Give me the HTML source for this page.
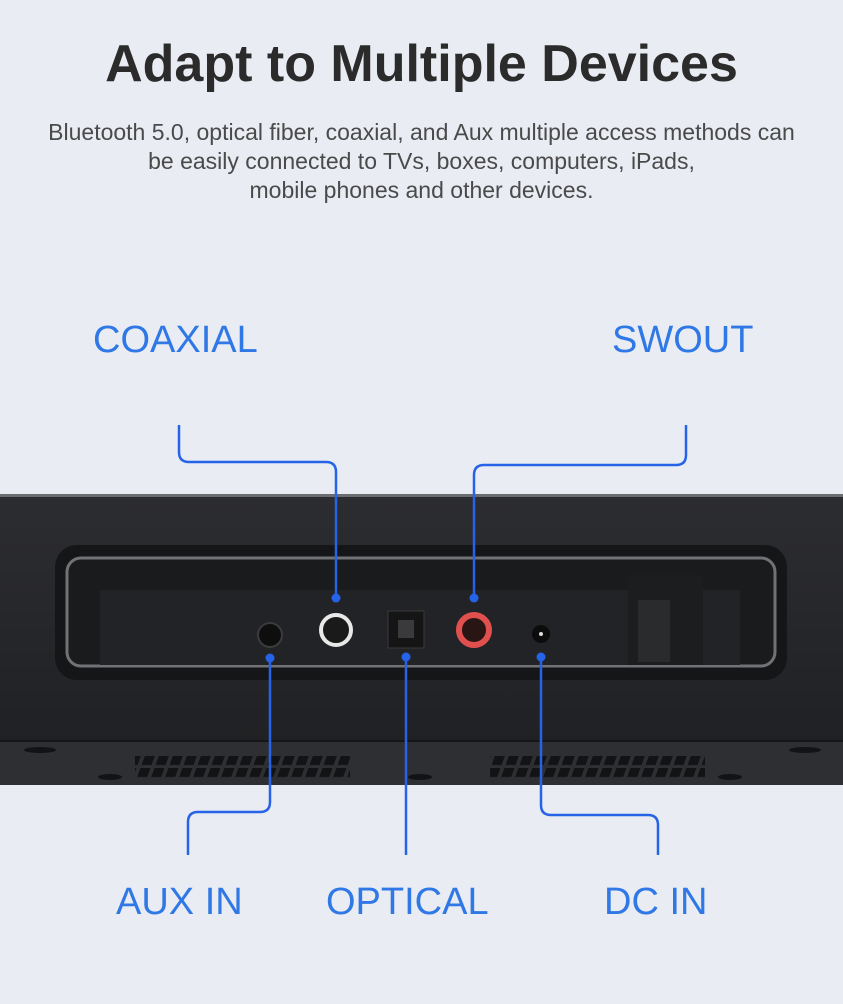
<!DOCTYPE html>
<html><head><style>
body{margin:0;width:843px;height:1004px;background:#e9ecf3;font-family:"Liberation Sans",sans-serif;position:relative;overflow:hidden}
.t{position:absolute;left:0;width:843px;text-align:center}
.lbl{position:absolute;color:#2f78e6;font-size:38px;white-space:nowrap}
</style></head><body>
<div class="t" style="top:34px;font-size:52px;font-weight:bold;color:#2b2b2b">Adapt to Multiple Devices</div>
<div class="t" style="top:118px;font-size:23px;line-height:29px;color:#4a4a4a">Bluetooth 5.0, optical fiber, coaxial, and Aux multiple access methods can<br>be easily connected to TVs, boxes, computers, iPads,<br>mobile phones and other devices.</div>
<div class="lbl" style="left:93px;top:319px">COAXIAL</div>
<div class="lbl" style="left:612px;top:319px">SWOUT</div>
<div class="lbl" style="left:116px;top:881px">AUX IN</div>
<div class="lbl" style="left:326px;top:881px">OPTICAL</div>
<div class="lbl" style="left:604px;top:881px">DC IN</div>
<svg width="843" height="1004" style="position:absolute;left:0;top:0">
<defs>
<linearGradient id="bd" x1="0" y1="0" x2="0" y2="1"><stop offset="0" stop-color="#2c2d30"/><stop offset="1" stop-color="#202124"/></linearGradient>
<pattern id="vent" width="14" height="12" patternUnits="userSpaceOnUse" patternTransform="skewX(-20)"><rect x="0" y="0" width="10" height="9" fill="#121314"/></pattern>
</defs>
<rect x="0" y="494" width="843" height="3" fill="#6a6c70"/>
<rect x="0" y="497" width="843" height="245" fill="url(#bd)"/>
<rect x="0" y="742" width="843" height="43" fill="#2e2f32"/>
<rect x="0" y="740" width="843" height="2" fill="#151617"/>
<rect x="55" y="545" width="732" height="135" rx="22" fill="#151618"/>
<rect x="67" y="558" width="708" height="108" rx="14" fill="#1a1b1d" stroke="#707276" stroke-width="3"/>
<rect x="100" y="590" width="640" height="75" fill="#222326"/>
<rect x="628" y="575" width="75" height="90" fill="#1c1d1f"/>
<rect x="638" y="600" width="32" height="62" fill="#2a2b2d"/>
<circle cx="270" cy="635" r="12" fill="#0e0e0f" stroke="#3a3b3d" stroke-width="2"/>
<circle cx="336" cy="630" r="15" fill="#1a1a1a" stroke="#e8e8e8" stroke-width="4"/>
<rect x="388" y="611" width="36" height="37" fill="#151516" stroke="#3a3a3a"/>
<rect x="398" y="620" width="16" height="18" fill="#3a3a3c"/>
<circle cx="474" cy="630" r="15" fill="#2a1515" stroke="#e0504e" stroke-width="6"/>
<circle cx="541" cy="634" r="9" fill="#0c0c0c"/>
<circle cx="541" cy="634" r="2" fill="#ddd"/>
<rect x="135" y="754" width="215" height="24" fill="url(#vent)"/>
<rect x="490" y="754" width="215" height="24" fill="url(#vent)"/>
<g fill="#121314">
<ellipse cx="40" cy="750" rx="16" ry="3"/><ellipse cx="805" cy="750" rx="16" ry="3"/>
<ellipse cx="110" cy="777" rx="12" ry="3"/><ellipse cx="420" cy="777" rx="12" ry="3"/><ellipse cx="730" cy="777" rx="12" ry="3"/>
</g>
<g fill="none" stroke="#2563e8" stroke-width="2.5">
<path d="M179 425 V452 Q179 462 189 462 H326 Q336 462 336 472 V597"/>
<path d="M686 425 V455 Q686 465 676 465 H484 Q474 465 474 475 V597"/>
<path d="M270 660 V802 Q270 812 260 812 H198 Q188 812 188 822 V855"/>
<path d="M406 657 V855"/>
<path d="M541 657 V805 Q541 815 551 815 H648 Q658 815 658 825 V855"/>
</g>
<g fill="#2563e8">
<circle cx="336" cy="598" r="4.5"/><circle cx="474" cy="598" r="4.5"/>
<circle cx="270" cy="658" r="4.5"/><circle cx="406" cy="657" r="4.5"/><circle cx="541" cy="657" r="4.5"/>
</g>
</svg>
</body></html>
